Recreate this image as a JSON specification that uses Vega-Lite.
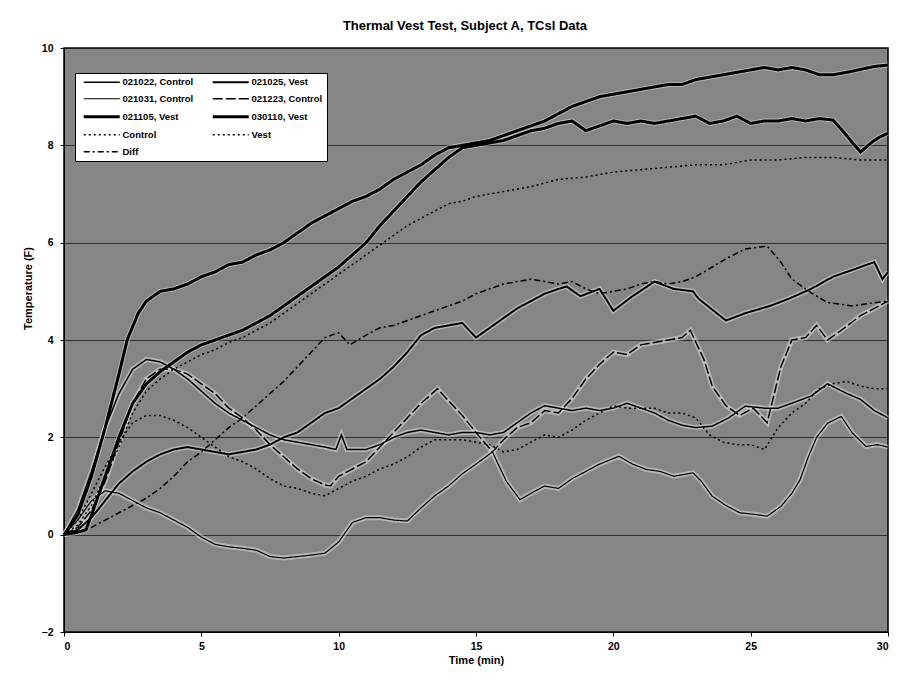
{
  "$schema": "https://vega.github.io/schema/vega-lite/v6.json",
  "autosize": {"type": "none"},
  "width": 824,
  "height": 584,
  "padding": {"left": 64, "top": 48, "right": 24, "bottom": 53},
  "background": "white",
  "title": {
    "text": "Thermal Vest Test, Subject A, TCsl Data",
    "font": "Liberation Sans",
    "fontSize": 13,
    "fontWeight": "bold",
    "color": "black",
    "anchor": "middle",
    "frame": "group",
    "dx": -11,
    "offset": 10
  },
  "datasets": {
    "runs": [
      {"s": "030110, Vest", "t": 0, "v": 0}, {"s": "030110, Vest", "t": 0.5, "v": 0.4}, {"s": "030110, Vest", "t": 1, "v": 1.2}, {"s": "030110, Vest", "t": 1.5, "v": 2.2}, {"s": "030110, Vest", "t": 2, "v": 3.3}, {"s": "030110, Vest", "t": 2.3, "v": 4.0}, {"s": "030110, Vest", "t": 2.7, "v": 4.55}, {"s": "030110, Vest", "t": 3, "v": 4.8}, {"s": "030110, Vest", "t": 3.5, "v": 5.0}, {"s": "030110, Vest", "t": 4, "v": 5.05}, {"s": "030110, Vest", "t": 4.5, "v": 5.15}, {"s": "030110, Vest", "t": 5, "v": 5.3}, {"s": "030110, Vest", "t": 5.5, "v": 5.4}, {"s": "030110, Vest", "t": 6, "v": 5.55}, {"s": "030110, Vest", "t": 6.5, "v": 5.6}, {"s": "030110, Vest", "t": 7, "v": 5.75}, {"s": "030110, Vest", "t": 7.5, "v": 5.85}, {"s": "030110, Vest", "t": 8, "v": 6.0}, {"s": "030110, Vest", "t": 8.5, "v": 6.2}, {"s": "030110, Vest", "t": 9, "v": 6.4}, {"s": "030110, Vest", "t": 9.5, "v": 6.55}, {"s": "030110, Vest", "t": 10, "v": 6.7}, {"s": "030110, Vest", "t": 10.5, "v": 6.85}, {"s": "030110, Vest", "t": 11, "v": 6.95}, {"s": "030110, Vest", "t": 11.5, "v": 7.1}, {"s": "030110, Vest", "t": 12, "v": 7.3}, {"s": "030110, Vest", "t": 12.5, "v": 7.45}, {"s": "030110, Vest", "t": 13, "v": 7.6}, {"s": "030110, Vest", "t": 13.5, "v": 7.8}, {"s": "030110, Vest", "t": 14, "v": 7.95}, {"s": "030110, Vest", "t": 14.5, "v": 8.0}, {"s": "030110, Vest", "t": 15, "v": 8.05}, {"s": "030110, Vest", "t": 15.5, "v": 8.1}, {"s": "030110, Vest", "t": 16, "v": 8.2}, {"s": "030110, Vest", "t": 16.5, "v": 8.3}, {"s": "030110, Vest", "t": 17, "v": 8.4}, {"s": "030110, Vest", "t": 17.5, "v": 8.5}, {"s": "030110, Vest", "t": 18, "v": 8.65}, {"s": "030110, Vest", "t": 18.5, "v": 8.8}, {"s": "030110, Vest", "t": 19, "v": 8.9}, {"s": "030110, Vest", "t": 19.5, "v": 9.0}, {"s": "030110, Vest", "t": 20, "v": 9.05}, {"s": "030110, Vest", "t": 20.5, "v": 9.1}, {"s": "030110, Vest", "t": 21, "v": 9.15}, {"s": "030110, Vest", "t": 21.5, "v": 9.2}, {"s": "030110, Vest", "t": 22, "v": 9.25}, {"s": "030110, Vest", "t": 22.5, "v": 9.25}, {"s": "030110, Vest", "t": 23, "v": 9.35}, {"s": "030110, Vest", "t": 23.5, "v": 9.4}, {"s": "030110, Vest", "t": 24, "v": 9.45}, {"s": "030110, Vest", "t": 24.5, "v": 9.5}, {"s": "030110, Vest", "t": 25, "v": 9.55}, {"s": "030110, Vest", "t": 25.5, "v": 9.6}, {"s": "030110, Vest", "t": 26, "v": 9.55}, {"s": "030110, Vest", "t": 26.5, "v": 9.6}, {"s": "030110, Vest", "t": 27, "v": 9.55}, {"s": "030110, Vest", "t": 27.5, "v": 9.45}, {"s": "030110, Vest", "t": 28, "v": 9.45}, {"s": "030110, Vest", "t": 28.5, "v": 9.5}, {"s": "030110, Vest", "t": 29, "v": 9.56}, {"s": "030110, Vest", "t": 29.5, "v": 9.62}, {"s": "030110, Vest", "t": 30, "v": 9.65},

      {"s": "021105, Vest", "t": 0, "v": 0}, {"s": "021105, Vest", "t": 0.5, "v": 0.05}, {"s": "021105, Vest", "t": 0.8, "v": 0.1}, {"s": "021105, Vest", "t": 1, "v": 0.4}, {"s": "021105, Vest", "t": 1.5, "v": 1.2}, {"s": "021105, Vest", "t": 2, "v": 2.0}, {"s": "021105, Vest", "t": 2.5, "v": 2.7}, {"s": "021105, Vest", "t": 3, "v": 3.1}, {"s": "021105, Vest", "t": 3.5, "v": 3.35}, {"s": "021105, Vest", "t": 4, "v": 3.55}, {"s": "021105, Vest", "t": 4.5, "v": 3.75}, {"s": "021105, Vest", "t": 5, "v": 3.9}, {"s": "021105, Vest", "t": 5.5, "v": 4.0}, {"s": "021105, Vest", "t": 6, "v": 4.1}, {"s": "021105, Vest", "t": 6.5, "v": 4.2}, {"s": "021105, Vest", "t": 7, "v": 4.35}, {"s": "021105, Vest", "t": 7.5, "v": 4.5}, {"s": "021105, Vest", "t": 8, "v": 4.7}, {"s": "021105, Vest", "t": 8.5, "v": 4.9}, {"s": "021105, Vest", "t": 9, "v": 5.1}, {"s": "021105, Vest", "t": 9.5, "v": 5.3}, {"s": "021105, Vest", "t": 10, "v": 5.5}, {"s": "021105, Vest", "t": 10.5, "v": 5.75}, {"s": "021105, Vest", "t": 11, "v": 6.0}, {"s": "021105, Vest", "t": 11.5, "v": 6.35}, {"s": "021105, Vest", "t": 12, "v": 6.65}, {"s": "021105, Vest", "t": 12.5, "v": 6.95}, {"s": "021105, Vest", "t": 13, "v": 7.25}, {"s": "021105, Vest", "t": 13.5, "v": 7.5}, {"s": "021105, Vest", "t": 14, "v": 7.75}, {"s": "021105, Vest", "t": 14.5, "v": 7.95}, {"s": "021105, Vest", "t": 15, "v": 8.0}, {"s": "021105, Vest", "t": 15.5, "v": 8.05}, {"s": "021105, Vest", "t": 16, "v": 8.1}, {"s": "021105, Vest", "t": 16.5, "v": 8.2}, {"s": "021105, Vest", "t": 17, "v": 8.3}, {"s": "021105, Vest", "t": 17.5, "v": 8.35}, {"s": "021105, Vest", "t": 18, "v": 8.45}, {"s": "021105, Vest", "t": 18.5, "v": 8.5}, {"s": "021105, Vest", "t": 19, "v": 8.3}, {"s": "021105, Vest", "t": 19.5, "v": 8.4}, {"s": "021105, Vest", "t": 20, "v": 8.5}, {"s": "021105, Vest", "t": 20.5, "v": 8.45}, {"s": "021105, Vest", "t": 21, "v": 8.5}, {"s": "021105, Vest", "t": 21.5, "v": 8.45}, {"s": "021105, Vest", "t": 22, "v": 8.5}, {"s": "021105, Vest", "t": 22.5, "v": 8.55}, {"s": "021105, Vest", "t": 23, "v": 8.6}, {"s": "021105, Vest", "t": 23.5, "v": 8.45}, {"s": "021105, Vest", "t": 24, "v": 8.5}, {"s": "021105, Vest", "t": 24.5, "v": 8.6}, {"s": "021105, Vest", "t": 25, "v": 8.45}, {"s": "021105, Vest", "t": 25.5, "v": 8.5}, {"s": "021105, Vest", "t": 26, "v": 8.5}, {"s": "021105, Vest", "t": 26.5, "v": 8.55}, {"s": "021105, Vest", "t": 27, "v": 8.5}, {"s": "021105, Vest", "t": 27.5, "v": 8.55}, {"s": "021105, Vest", "t": 28, "v": 8.52}, {"s": "021105, Vest", "t": 28.3, "v": 8.33}, {"s": "021105, Vest", "t": 28.7, "v": 8.06}, {"s": "021105, Vest", "t": 29, "v": 7.86}, {"s": "021105, Vest", "t": 29.4, "v": 8.06}, {"s": "021105, Vest", "t": 29.7, "v": 8.17}, {"s": "021105, Vest", "t": 30, "v": 8.25},

      {"s": "021025, Vest", "t": 0, "v": 0}, {"s": "021025, Vest", "t": 0.5, "v": 0.1}, {"s": "021025, Vest", "t": 1, "v": 0.35}, {"s": "021025, Vest", "t": 1.5, "v": 0.7}, {"s": "021025, Vest", "t": 2, "v": 1.05}, {"s": "021025, Vest", "t": 2.5, "v": 1.3}, {"s": "021025, Vest", "t": 3, "v": 1.5}, {"s": "021025, Vest", "t": 3.5, "v": 1.65}, {"s": "021025, Vest", "t": 4, "v": 1.75}, {"s": "021025, Vest", "t": 4.5, "v": 1.8}, {"s": "021025, Vest", "t": 5, "v": 1.75}, {"s": "021025, Vest", "t": 5.5, "v": 1.7}, {"s": "021025, Vest", "t": 6, "v": 1.65}, {"s": "021025, Vest", "t": 6.5, "v": 1.7}, {"s": "021025, Vest", "t": 7, "v": 1.75}, {"s": "021025, Vest", "t": 7.5, "v": 1.85}, {"s": "021025, Vest", "t": 8, "v": 2.0}, {"s": "021025, Vest", "t": 8.5, "v": 2.1}, {"s": "021025, Vest", "t": 9, "v": 2.3}, {"s": "021025, Vest", "t": 9.5, "v": 2.5}, {"s": "021025, Vest", "t": 10, "v": 2.6}, {"s": "021025, Vest", "t": 10.5, "v": 2.8}, {"s": "021025, Vest", "t": 11, "v": 3.0}, {"s": "021025, Vest", "t": 11.5, "v": 3.2}, {"s": "021025, Vest", "t": 12, "v": 3.45}, {"s": "021025, Vest", "t": 12.5, "v": 3.75}, {"s": "021025, Vest", "t": 13, "v": 4.1}, {"s": "021025, Vest", "t": 13.5, "v": 4.25}, {"s": "021025, Vest", "t": 14, "v": 4.3}, {"s": "021025, Vest", "t": 14.5, "v": 4.35}, {"s": "021025, Vest", "t": 15, "v": 4.05}, {"s": "021025, Vest", "t": 15.5, "v": 4.25}, {"s": "021025, Vest", "t": 16, "v": 4.45}, {"s": "021025, Vest", "t": 16.5, "v": 4.65}, {"s": "021025, Vest", "t": 17, "v": 4.8}, {"s": "021025, Vest", "t": 17.5, "v": 4.95}, {"s": "021025, Vest", "t": 18, "v": 5.05}, {"s": "021025, Vest", "t": 18.3, "v": 5.1}, {"s": "021025, Vest", "t": 18.8, "v": 4.9}, {"s": "021025, Vest", "t": 19.5, "v": 5.05}, {"s": "021025, Vest", "t": 20, "v": 4.6}, {"s": "021025, Vest", "t": 20.7, "v": 4.9}, {"s": "021025, Vest", "t": 21.5, "v": 5.2}, {"s": "021025, Vest", "t": 22.2, "v": 5.05}, {"s": "021025, Vest", "t": 22.9, "v": 5.0}, {"s": "021025, Vest", "t": 23.1, "v": 4.85}, {"s": "021025, Vest", "t": 24.1, "v": 4.4}, {"s": "021025, Vest", "t": 24.8, "v": 4.55}, {"s": "021025, Vest", "t": 25.7, "v": 4.7}, {"s": "021025, Vest", "t": 26.4, "v": 4.85}, {"s": "021025, Vest", "t": 27.2, "v": 5.05}, {"s": "021025, Vest", "t": 28, "v": 5.3}, {"s": "021025, Vest", "t": 29, "v": 5.5}, {"s": "021025, Vest", "t": 29.5, "v": 5.6}, {"s": "021025, Vest", "t": 29.8, "v": 5.25}, {"s": "021025, Vest", "t": 30, "v": 5.4},

      {"s": "021022, Control", "t": 0, "v": 0}, {"s": "021022, Control", "t": 0.5, "v": 0.5}, {"s": "021022, Control", "t": 1, "v": 1.3}, {"s": "021022, Control", "t": 1.5, "v": 2.2}, {"s": "021022, Control", "t": 2, "v": 2.9}, {"s": "021022, Control", "t": 2.5, "v": 3.4}, {"s": "021022, Control", "t": 3, "v": 3.6}, {"s": "021022, Control", "t": 3.5, "v": 3.55}, {"s": "021022, Control", "t": 4, "v": 3.4}, {"s": "021022, Control", "t": 4.5, "v": 3.2}, {"s": "021022, Control", "t": 5, "v": 2.95}, {"s": "021022, Control", "t": 5.5, "v": 2.7}, {"s": "021022, Control", "t": 6, "v": 2.5}, {"s": "021022, Control", "t": 6.5, "v": 2.35}, {"s": "021022, Control", "t": 7, "v": 2.2}, {"s": "021022, Control", "t": 7.5, "v": 2.05}, {"s": "021022, Control", "t": 8, "v": 1.95}, {"s": "021022, Control", "t": 8.5, "v": 1.9}, {"s": "021022, Control", "t": 9, "v": 1.85}, {"s": "021022, Control", "t": 9.5, "v": 1.8}, {"s": "021022, Control", "t": 9.9, "v": 1.75}, {"s": "021022, Control", "t": 10.1, "v": 2.05}, {"s": "021022, Control", "t": 10.3, "v": 1.75}, {"s": "021022, Control", "t": 11, "v": 1.75}, {"s": "021022, Control", "t": 11.5, "v": 1.85}, {"s": "021022, Control", "t": 12, "v": 2.0}, {"s": "021022, Control", "t": 12.5, "v": 2.1}, {"s": "021022, Control", "t": 13, "v": 2.15}, {"s": "021022, Control", "t": 13.5, "v": 2.1}, {"s": "021022, Control", "t": 14, "v": 2.05}, {"s": "021022, Control", "t": 14.5, "v": 2.1}, {"s": "021022, Control", "t": 15, "v": 2.1}, {"s": "021022, Control", "t": 15.5, "v": 2.05}, {"s": "021022, Control", "t": 16, "v": 2.1}, {"s": "021022, Control", "t": 16.5, "v": 2.3}, {"s": "021022, Control", "t": 17, "v": 2.5}, {"s": "021022, Control", "t": 17.5, "v": 2.65}, {"s": "021022, Control", "t": 18, "v": 2.6}, {"s": "021022, Control", "t": 18.5, "v": 2.55}, {"s": "021022, Control", "t": 19, "v": 2.6}, {"s": "021022, Control", "t": 19.5, "v": 2.55}, {"s": "021022, Control", "t": 20, "v": 2.6}, {"s": "021022, Control", "t": 20.5, "v": 2.7}, {"s": "021022, Control", "t": 21, "v": 2.6}, {"s": "021022, Control", "t": 21.5, "v": 2.5}, {"s": "021022, Control", "t": 22, "v": 2.35}, {"s": "021022, Control", "t": 22.5, "v": 2.25}, {"s": "021022, Control", "t": 23, "v": 2.2}, {"s": "021022, Control", "t": 23.6, "v": 2.23}, {"s": "021022, Control", "t": 24.2, "v": 2.4}, {"s": "021022, Control", "t": 24.8, "v": 2.64}, {"s": "021022, Control", "t": 25.5, "v": 2.6}, {"s": "021022, Control", "t": 26, "v": 2.6}, {"s": "021022, Control", "t": 26.5, "v": 2.7}, {"s": "021022, Control", "t": 27.2, "v": 2.85}, {"s": "021022, Control", "t": 27.8, "v": 3.1}, {"s": "021022, Control", "t": 28.5, "v": 2.9}, {"s": "021022, Control", "t": 29, "v": 2.78}, {"s": "021022, Control", "t": 29.5, "v": 2.55}, {"s": "021022, Control", "t": 30, "v": 2.4},

      {"s": "021223, Control", "t": 0, "v": 0}, {"s": "021223, Control", "t": 0.5, "v": 0.15}, {"s": "021223, Control", "t": 1, "v": 0.5}, {"s": "021223, Control", "t": 1.5, "v": 1.1}, {"s": "021223, Control", "t": 2, "v": 1.9}, {"s": "021223, Control", "t": 2.5, "v": 2.7}, {"s": "021223, Control", "t": 3, "v": 3.2}, {"s": "021223, Control", "t": 3.5, "v": 3.4}, {"s": "021223, Control", "t": 4, "v": 3.4}, {"s": "021223, Control", "t": 4.5, "v": 3.3}, {"s": "021223, Control", "t": 5, "v": 3.1}, {"s": "021223, Control", "t": 5.5, "v": 2.9}, {"s": "021223, Control", "t": 6, "v": 2.6}, {"s": "021223, Control", "t": 6.5, "v": 2.4}, {"s": "021223, Control", "t": 7, "v": 2.15}, {"s": "021223, Control", "t": 7.5, "v": 1.85}, {"s": "021223, Control", "t": 8, "v": 1.6}, {"s": "021223, Control", "t": 8.5, "v": 1.35}, {"s": "021223, Control", "t": 9, "v": 1.15}, {"s": "021223, Control", "t": 9.5, "v": 1.02}, {"s": "021223, Control", "t": 9.7, "v": 1.0}, {"s": "021223, Control", "t": 10, "v": 1.2}, {"s": "021223, Control", "t": 10.5, "v": 1.35}, {"s": "021223, Control", "t": 11, "v": 1.5}, {"s": "021223, Control", "t": 11.5, "v": 1.8}, {"s": "021223, Control", "t": 12, "v": 2.1}, {"s": "021223, Control", "t": 12.5, "v": 2.4}, {"s": "021223, Control", "t": 13, "v": 2.7}, {"s": "021223, Control", "t": 13.6, "v": 3.0}, {"s": "021223, Control", "t": 14, "v": 2.75}, {"s": "021223, Control", "t": 14.5, "v": 2.45}, {"s": "021223, Control", "t": 15, "v": 2.1}, {"s": "021223, Control", "t": 15.6, "v": 1.7}, {"s": "021223, Control", "t": 16, "v": 1.95}, {"s": "021223, Control", "t": 16.5, "v": 2.2}, {"s": "021223, Control", "t": 17, "v": 2.3}, {"s": "021223, Control", "t": 17.5, "v": 2.55}, {"s": "021223, Control", "t": 18, "v": 2.5}, {"s": "021223, Control", "t": 18.5, "v": 2.8}, {"s": "021223, Control", "t": 19, "v": 3.2}, {"s": "021223, Control", "t": 19.5, "v": 3.5}, {"s": "021223, Control", "t": 20, "v": 3.75}, {"s": "021223, Control", "t": 20.5, "v": 3.7}, {"s": "021223, Control", "t": 21, "v": 3.9}, {"s": "021223, Control", "t": 21.5, "v": 3.95}, {"s": "021223, Control", "t": 22, "v": 4.0}, {"s": "021223, Control", "t": 22.5, "v": 4.05}, {"s": "021223, Control", "t": 22.8, "v": 4.2}, {"s": "021223, Control", "t": 23.3, "v": 3.6}, {"s": "021223, Control", "t": 23.6, "v": 3.05}, {"s": "021223, Control", "t": 24.1, "v": 2.65}, {"s": "021223, Control", "t": 24.6, "v": 2.45}, {"s": "021223, Control", "t": 25.1, "v": 2.6}, {"s": "021223, Control", "t": 25.6, "v": 2.3}, {"s": "021223, Control", "t": 26.1, "v": 3.45}, {"s": "021223, Control", "t": 26.5, "v": 4.0}, {"s": "021223, Control", "t": 27, "v": 4.05}, {"s": "021223, Control", "t": 27.4, "v": 4.3}, {"s": "021223, Control", "t": 27.8, "v": 4.0}, {"s": "021223, Control", "t": 28.3, "v": 4.2}, {"s": "021223, Control", "t": 29, "v": 4.5}, {"s": "021223, Control", "t": 29.5, "v": 4.65}, {"s": "021223, Control", "t": 30, "v": 4.8},

      {"s": "021031, Control", "t": 0, "v": 0}, {"s": "021031, Control", "t": 0.5, "v": 0.3}, {"s": "021031, Control", "t": 1, "v": 0.7}, {"s": "021031, Control", "t": 1.5, "v": 0.9}, {"s": "021031, Control", "t": 2, "v": 0.85}, {"s": "021031, Control", "t": 2.5, "v": 0.7}, {"s": "021031, Control", "t": 3, "v": 0.55}, {"s": "021031, Control", "t": 3.5, "v": 0.45}, {"s": "021031, Control", "t": 4, "v": 0.3}, {"s": "021031, Control", "t": 4.5, "v": 0.15}, {"s": "021031, Control", "t": 5, "v": -0.05}, {"s": "021031, Control", "t": 5.5, "v": -0.2}, {"s": "021031, Control", "t": 6, "v": -0.25}, {"s": "021031, Control", "t": 6.5, "v": -0.28}, {"s": "021031, Control", "t": 7, "v": -0.32}, {"s": "021031, Control", "t": 7.5, "v": -0.45}, {"s": "021031, Control", "t": 8, "v": -0.48}, {"s": "021031, Control", "t": 8.5, "v": -0.45}, {"s": "021031, Control", "t": 9, "v": -0.42}, {"s": "021031, Control", "t": 9.5, "v": -0.38}, {"s": "021031, Control", "t": 10, "v": -0.15}, {"s": "021031, Control", "t": 10.5, "v": 0.25}, {"s": "021031, Control", "t": 11, "v": 0.35}, {"s": "021031, Control", "t": 11.5, "v": 0.35}, {"s": "021031, Control", "t": 12, "v": 0.3}, {"s": "021031, Control", "t": 12.5, "v": 0.28}, {"s": "021031, Control", "t": 13, "v": 0.55}, {"s": "021031, Control", "t": 13.5, "v": 0.8}, {"s": "021031, Control", "t": 14, "v": 1.0}, {"s": "021031, Control", "t": 14.5, "v": 1.25}, {"s": "021031, Control", "t": 15, "v": 1.45}, {"s": "021031, Control", "t": 15.6, "v": 1.7}, {"s": "021031, Control", "t": 16.1, "v": 1.1}, {"s": "021031, Control", "t": 16.6, "v": 0.72}, {"s": "021031, Control", "t": 17, "v": 0.85}, {"s": "021031, Control", "t": 17.5, "v": 1.0}, {"s": "021031, Control", "t": 18, "v": 0.95}, {"s": "021031, Control", "t": 18.5, "v": 1.15}, {"s": "021031, Control", "t": 19, "v": 1.3}, {"s": "021031, Control", "t": 19.5, "v": 1.45}, {"s": "021031, Control", "t": 20.2, "v": 1.61}, {"s": "021031, Control", "t": 20.7, "v": 1.45}, {"s": "021031, Control", "t": 21.2, "v": 1.34}, {"s": "021031, Control", "t": 21.7, "v": 1.3}, {"s": "021031, Control", "t": 22.2, "v": 1.2}, {"s": "021031, Control", "t": 22.9, "v": 1.27}, {"s": "021031, Control", "t": 23.2, "v": 1.1}, {"s": "021031, Control", "t": 23.6, "v": 0.79}, {"s": "021031, Control", "t": 24.1, "v": 0.6}, {"s": "021031, Control", "t": 24.6, "v": 0.45}, {"s": "021031, Control", "t": 25.1, "v": 0.42}, {"s": "021031, Control", "t": 25.6, "v": 0.38}, {"s": "021031, Control", "t": 26.1, "v": 0.58}, {"s": "021031, Control", "t": 26.5, "v": 0.85}, {"s": "021031, Control", "t": 26.8, "v": 1.13}, {"s": "021031, Control", "t": 27.1, "v": 1.6}, {"s": "021031, Control", "t": 27.4, "v": 2.0}, {"s": "021031, Control", "t": 27.8, "v": 2.29}, {"s": "021031, Control", "t": 28.3, "v": 2.43}, {"s": "021031, Control", "t": 28.7, "v": 2.09}, {"s": "021031, Control", "t": 29.2, "v": 1.81}, {"s": "021031, Control", "t": 29.6, "v": 1.85}, {"s": "021031, Control", "t": 30, "v": 1.8},

      {"s": "Vest", "t": 0, "v": 0}, {"s": "Vest", "t": 0.5, "v": 0.2}, {"s": "Vest", "t": 1, "v": 0.6}, {"s": "Vest", "t": 1.5, "v": 1.2}, {"s": "Vest", "t": 2, "v": 1.8}, {"s": "Vest", "t": 2.5, "v": 2.5}, {"s": "Vest", "t": 3, "v": 2.95}, {"s": "Vest", "t": 3.5, "v": 3.2}, {"s": "Vest", "t": 4, "v": 3.4}, {"s": "Vest", "t": 4.5, "v": 3.55}, {"s": "Vest", "t": 5, "v": 3.7}, {"s": "Vest", "t": 5.5, "v": 3.8}, {"s": "Vest", "t": 6, "v": 3.95}, {"s": "Vest", "t": 6.5, "v": 4.05}, {"s": "Vest", "t": 7, "v": 4.2}, {"s": "Vest", "t": 7.5, "v": 4.35}, {"s": "Vest", "t": 8, "v": 4.55}, {"s": "Vest", "t": 8.5, "v": 4.75}, {"s": "Vest", "t": 9, "v": 4.95}, {"s": "Vest", "t": 9.5, "v": 5.15}, {"s": "Vest", "t": 10, "v": 5.35}, {"s": "Vest", "t": 10.5, "v": 5.55}, {"s": "Vest", "t": 11, "v": 5.75}, {"s": "Vest", "t": 11.5, "v": 5.95}, {"s": "Vest", "t": 12, "v": 6.15}, {"s": "Vest", "t": 12.5, "v": 6.35}, {"s": "Vest", "t": 13, "v": 6.5}, {"s": "Vest", "t": 13.5, "v": 6.65}, {"s": "Vest", "t": 14, "v": 6.8}, {"s": "Vest", "t": 14.5, "v": 6.85}, {"s": "Vest", "t": 15, "v": 6.95}, {"s": "Vest", "t": 16, "v": 7.05}, {"s": "Vest", "t": 17, "v": 7.15}, {"s": "Vest", "t": 18, "v": 7.3}, {"s": "Vest", "t": 19, "v": 7.35}, {"s": "Vest", "t": 20, "v": 7.45}, {"s": "Vest", "t": 21, "v": 7.5}, {"s": "Vest", "t": 22, "v": 7.55}, {"s": "Vest", "t": 23, "v": 7.6}, {"s": "Vest", "t": 24, "v": 7.6}, {"s": "Vest", "t": 25, "v": 7.7}, {"s": "Vest", "t": 26, "v": 7.7}, {"s": "Vest", "t": 27, "v": 7.75}, {"s": "Vest", "t": 28, "v": 7.75}, {"s": "Vest", "t": 29, "v": 7.7}, {"s": "Vest", "t": 30, "v": 7.7},

      {"s": "Control", "t": 0, "v": 0}, {"s": "Control", "t": 0.5, "v": 0.3}, {"s": "Control", "t": 1, "v": 0.85}, {"s": "Control", "t": 1.5, "v": 1.4}, {"s": "Control", "t": 2, "v": 1.9}, {"s": "Control", "t": 2.5, "v": 2.3}, {"s": "Control", "t": 3, "v": 2.45}, {"s": "Control", "t": 3.5, "v": 2.45}, {"s": "Control", "t": 4, "v": 2.35}, {"s": "Control", "t": 4.5, "v": 2.2}, {"s": "Control", "t": 5, "v": 2.0}, {"s": "Control", "t": 5.5, "v": 1.8}, {"s": "Control", "t": 6, "v": 1.6}, {"s": "Control", "t": 6.5, "v": 1.5}, {"s": "Control", "t": 7, "v": 1.35}, {"s": "Control", "t": 7.5, "v": 1.15}, {"s": "Control", "t": 8, "v": 1.0}, {"s": "Control", "t": 8.5, "v": 0.95}, {"s": "Control", "t": 9, "v": 0.85}, {"s": "Control", "t": 9.5, "v": 0.8}, {"s": "Control", "t": 10, "v": 0.95}, {"s": "Control", "t": 10.5, "v": 1.1}, {"s": "Control", "t": 11, "v": 1.2}, {"s": "Control", "t": 11.5, "v": 1.35}, {"s": "Control", "t": 12, "v": 1.45}, {"s": "Control", "t": 12.5, "v": 1.6}, {"s": "Control", "t": 13, "v": 1.8}, {"s": "Control", "t": 13.5, "v": 1.95}, {"s": "Control", "t": 14, "v": 1.95}, {"s": "Control", "t": 14.5, "v": 1.95}, {"s": "Control", "t": 15, "v": 1.9}, {"s": "Control", "t": 15.5, "v": 1.85}, {"s": "Control", "t": 16, "v": 1.7}, {"s": "Control", "t": 16.5, "v": 1.75}, {"s": "Control", "t": 17, "v": 1.9}, {"s": "Control", "t": 17.5, "v": 2.05}, {"s": "Control", "t": 18, "v": 2.0}, {"s": "Control", "t": 18.5, "v": 2.15}, {"s": "Control", "t": 19, "v": 2.35}, {"s": "Control", "t": 19.5, "v": 2.5}, {"s": "Control", "t": 20, "v": 2.65}, {"s": "Control", "t": 20.5, "v": 2.6}, {"s": "Control", "t": 21, "v": 2.6}, {"s": "Control", "t": 21.5, "v": 2.6}, {"s": "Control", "t": 22, "v": 2.5}, {"s": "Control", "t": 22.5, "v": 2.5}, {"s": "Control", "t": 23, "v": 2.4}, {"s": "Control", "t": 23.5, "v": 2.05}, {"s": "Control", "t": 24, "v": 1.9}, {"s": "Control", "t": 24.5, "v": 1.85}, {"s": "Control", "t": 25, "v": 1.85}, {"s": "Control", "t": 25.5, "v": 1.75}, {"s": "Control", "t": 26, "v": 2.2}, {"s": "Control", "t": 26.5, "v": 2.5}, {"s": "Control", "t": 27, "v": 2.7}, {"s": "Control", "t": 27.5, "v": 3.0}, {"s": "Control", "t": 28, "v": 3.1}, {"s": "Control", "t": 28.5, "v": 3.15}, {"s": "Control", "t": 29, "v": 3.05}, {"s": "Control", "t": 29.5, "v": 3.0}, {"s": "Control", "t": 30, "v": 3.0},

      {"s": "Diff", "t": 0, "v": 0}, {"s": "Diff", "t": 0.5, "v": 0.05}, {"s": "Diff", "t": 1, "v": 0.15}, {"s": "Diff", "t": 1.5, "v": 0.3}, {"s": "Diff", "t": 2, "v": 0.45}, {"s": "Diff", "t": 2.5, "v": 0.6}, {"s": "Diff", "t": 3, "v": 0.75}, {"s": "Diff", "t": 3.5, "v": 0.95}, {"s": "Diff", "t": 4, "v": 1.2}, {"s": "Diff", "t": 4.5, "v": 1.5}, {"s": "Diff", "t": 5, "v": 1.7}, {"s": "Diff", "t": 5.5, "v": 1.95}, {"s": "Diff", "t": 6, "v": 2.2}, {"s": "Diff", "t": 6.5, "v": 2.4}, {"s": "Diff", "t": 7, "v": 2.65}, {"s": "Diff", "t": 7.5, "v": 2.9}, {"s": "Diff", "t": 8, "v": 3.15}, {"s": "Diff", "t": 8.5, "v": 3.45}, {"s": "Diff", "t": 9, "v": 3.75}, {"s": "Diff", "t": 9.5, "v": 4.05}, {"s": "Diff", "t": 10, "v": 4.15}, {"s": "Diff", "t": 10.4, "v": 3.9}, {"s": "Diff", "t": 11, "v": 4.1}, {"s": "Diff", "t": 11.5, "v": 4.25}, {"s": "Diff", "t": 12, "v": 4.3}, {"s": "Diff", "t": 12.5, "v": 4.4}, {"s": "Diff", "t": 13, "v": 4.5}, {"s": "Diff", "t": 13.5, "v": 4.6}, {"s": "Diff", "t": 14, "v": 4.7}, {"s": "Diff", "t": 14.5, "v": 4.8}, {"s": "Diff", "t": 15, "v": 4.95}, {"s": "Diff", "t": 15.5, "v": 5.05}, {"s": "Diff", "t": 16, "v": 5.15}, {"s": "Diff", "t": 16.5, "v": 5.2}, {"s": "Diff", "t": 17, "v": 5.25}, {"s": "Diff", "t": 17.5, "v": 5.2}, {"s": "Diff", "t": 18, "v": 5.15}, {"s": "Diff", "t": 18.5, "v": 5.2}, {"s": "Diff", "t": 19, "v": 5.05}, {"s": "Diff", "t": 19.5, "v": 4.95}, {"s": "Diff", "t": 20, "v": 5.0}, {"s": "Diff", "t": 20.5, "v": 5.05}, {"s": "Diff", "t": 21, "v": 5.15}, {"s": "Diff", "t": 21.5, "v": 5.2}, {"s": "Diff", "t": 22, "v": 5.15}, {"s": "Diff", "t": 22.5, "v": 5.2}, {"s": "Diff", "t": 23, "v": 5.3}, {"s": "Diff", "t": 23.6, "v": 5.5}, {"s": "Diff", "t": 24.2, "v": 5.7}, {"s": "Diff", "t": 24.8, "v": 5.87}, {"s": "Diff", "t": 25.6, "v": 5.93}, {"s": "Diff", "t": 26.1, "v": 5.6}, {"s": "Diff", "t": 26.5, "v": 5.25}, {"s": "Diff", "t": 27.2, "v": 4.97}, {"s": "Diff", "t": 27.8, "v": 4.77}, {"s": "Diff", "t": 28.7, "v": 4.7}, {"s": "Diff", "t": 29.3, "v": 4.75}, {"s": "Diff", "t": 30, "v": 4.8}
    ]
  },
  "data": {"name": "runs"},
  "encoding": {
    "x": {
      "field": "t",
      "type": "quantitative",
      "title": "Time (min)",
      "scale": {"domain": [0, 30], "nice": false, "zero": false},
      "axis": {"values": [0, 5, 10, 15, 20, 25, 30], "grid": false, "labelPadding": 5, "titlePadding": 3, "labelBaseline": "top"}
    },
    "y": {
      "field": "v",
      "type": "quantitative",
      "title": "Temperature (F)",
      "scale": {"domain": [-2, 10], "nice": false},
      "axis": {
        "values": [-2, 0, 2, 4, 6, 8, 10],
        "grid": true,
        "labelPadding": 7,
        "titleX": -36,
        "titleY": 240,
        "titleAngle": -90,
        "titleAlign": "center",
        "titleBaseline": "middle"
      }
    }
  },
  "layer": [
    {
      "transform": [{"filter": {"field": "s", "oneOf": ["030110, Vest", "021105, Vest", "021025, Vest", "021022, Control", "021223, Control", "021031, Control"]}}],
      "mark": {"type": "line", "color": "white", "strokeWidth": 5, "opacity": 0.4},
      "encoding": {"detail": {"field": "s", "type": "nominal"}}
    },
    {
      "mark": {"type": "line", "color": "black"},
      "encoding": {
        "strokeDash": {
          "field": "s",
          "type": "nominal",
          "scale": {
            "domain": ["021022, Control", "021025, Vest", "021031, Control", "021223, Control", "021105, Vest", "030110, Vest", "Control", "Vest", "Diff"],
            "range": [[1, 0], [1, 0], [1, 0], [10, 3], [1, 0], [1, 0], [2, 3], [2, 3], [6, 3, 2, 3]]
          },
          "legend": {
            "orient": "none", "legendX": 11, "legendY": 25, "columns": 2, "direction": "horizontal", "title": null,
            "fillColor": "white", "strokeColor": "black", "padding": 4,
            "symbolType": "M0,0H12", "symbolSize": 36, "symbolStrokeColor": "black",
            "labelOffset": 34, "rowPadding": 6, "columnPadding": 12,
            "labelFont": "Liberation Sans", "labelFontSize": 9.5, "labelFontWeight": "bold", "labelColor": "black", "labelLimit": 200
          }
        },
        "strokeWidth": {
          "field": "s",
          "type": "nominal",
          "scale": {
            "type": "ordinal",
            "domain": ["021022, Control", "021025, Vest", "021031, Control", "021223, Control", "021105, Vest", "030110, Vest", "Control", "Vest", "Diff"],
            "range": [1.5, 2, 1.2, 1.5, 3, 3, 1.5, 1.5, 1.5]
          },
          "legend": {
            "orient": "none", "legendX": 11, "legendY": 25, "columns": 2, "direction": "horizontal", "title": null,
            "fillColor": "white", "strokeColor": "black", "padding": 4,
            "symbolType": "M0,0H12", "symbolSize": 36, "symbolStrokeColor": "black",
            "labelOffset": 34, "rowPadding": 6, "columnPadding": 12,
            "labelFont": "Liberation Sans", "labelFontSize": 9.5, "labelFontWeight": "bold", "labelColor": "black", "labelLimit": 200
          }
        }
      }
    }
  ],
  "config": {
    "font": "Liberation Sans",
    "view": {"fill": "#858585", "stroke": "black", "strokeWidth": 1.5},
    "axis": {
      "labelFont": "Liberation Sans",
      "labelFontSize": 10.5,
      "labelFontWeight": "bold",
      "labelColor": "black",
      "titleFont": "Liberation Sans",
      "titleFontSize": 11,
      "titleFontWeight": "bold",
      "titleColor": "black",
      "domainColor": "black",
      "tickColor": "black",
      "tickSize": 4,
      "gridColor": "#1a1a1a",
      "gridWidth": 1,
      "gridOpacity": 0.8
    }
  }
}
